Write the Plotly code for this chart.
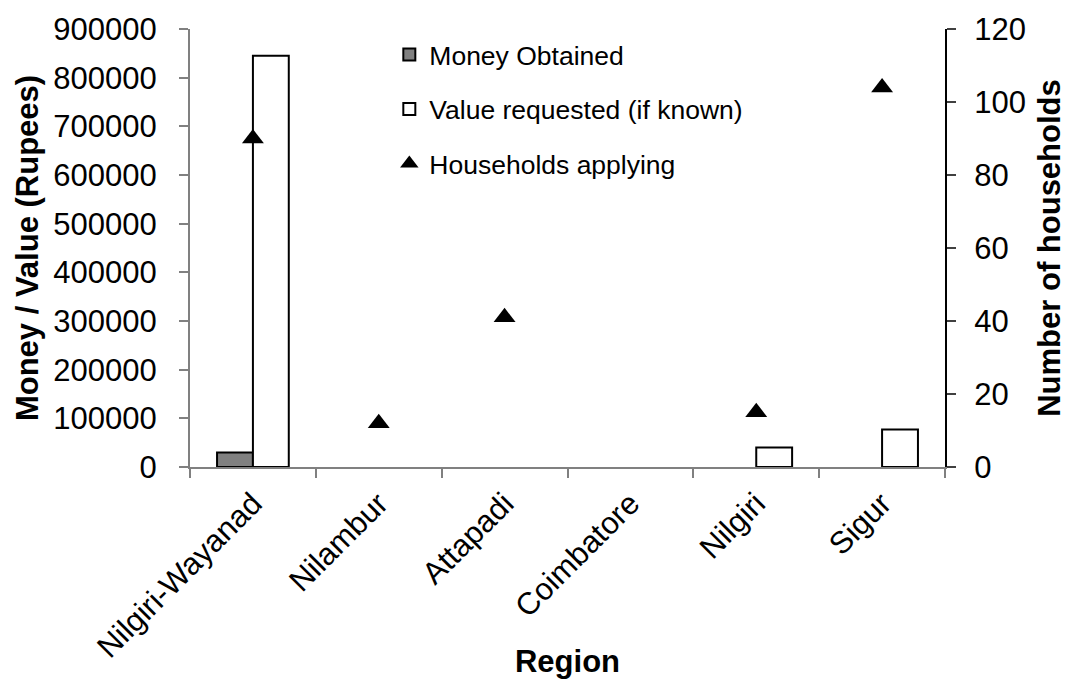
import plotly.graph_objects as go

regions = ["Nilgiri-Wayanad", "Nilambur", "Attapadi", "Coimbatore", "Nilgiri", "Sigur"]
money_obtained = [30000, None, None, None, None, None]
value_requested = [845000, None, None, None, 40000, 77000]
households_applying = [90, 12, 41, None, 15, 104]

y_left_ticks = [0, 100000, 200000, 300000, 400000, 500000, 600000, 700000, 800000, 900000]
y_right_ticks = [0, 20, 40, 60, 80, 100, 120]

FONT = "Arial, Liberation Sans, sans-serif"

fig = go.Figure()
fig.add_trace(go.Bar(
    x=regions, y=money_obtained, name="Money Obtained",
    marker=dict(color="#808080", line=dict(color="black", width=2)),
    legendgroup="a", yaxis="y",
))
fig.add_trace(go.Bar(
    x=regions, y=value_requested, name="Value requested (if known)",
    marker=dict(color="white", line=dict(color="black", width=2)),
    legendgroup="b", yaxis="y",
))
fig.add_trace(go.Scatter(
    x=regions, y=households_applying, name="Households applying",
    mode="markers",
    marker=dict(symbol="triangle-up", size=19, color="black"),
    legendgroup="c", yaxis="y2",
))

fig.update_layout(
    width=1071, height=679,
    margin=dict(l=190, r=126, t=29, b=212),
    paper_bgcolor="white", plot_bgcolor="white",
    font=dict(family=FONT, size=29, color="black"),
    barmode="group", bargap=0.43, bargroupgap=0,
    showlegend=True,
    legend=dict(
        x=0.264, y=0.996, xanchor="left", yanchor="top",
        font=dict(family=FONT, size=26.5, color="black"),
        traceorder="grouped", tracegroupgap=17,
        bgcolor="rgba(0,0,0,0)",
    ),
    xaxis=dict(
        type="category", tickangle=-45, tickson="boundaries",
        automargin=False,
        showline=True, linecolor="#808080", linewidth=2,
        ticks="outside", ticklen=9, tickcolor="#808080", tickwidth=1.5,
        showgrid=False, zeroline=False,
        tickfont=dict(family=FONT, size=31),
        title=dict(text="<b>Region</b>", font=dict(family=FONT, size=31), standoff=0),
        ticklabelstandoff=4,
    ),
    yaxis=dict(
        range=[0, 900000], tickvals=y_left_ticks, ticktext=[str(v) for v in y_left_ticks],
        automargin=False,
        showline=True, linecolor="#808080", linewidth=2,
        ticks="outside", ticklen=9, tickcolor="#808080", tickwidth=1.5,
        showgrid=False, zeroline=False,
        tickfont=dict(family=FONT, size=31),
        ticklabelstandoff=16,
        title=dict(text="<b>Money / Value (Rupees)</b>", font=dict(family=FONT, size=31), standoff=5),
    ),
    yaxis2=dict(
        range=[0, 120], tickvals=y_right_ticks, ticktext=[str(v) for v in y_right_ticks],
        overlaying="y", side="right",
        automargin=False,
        showline=True, linecolor="black", linewidth=2,
        ticks="outside", ticklen=9, tickcolor="#404040", tickwidth=1.5,
        showgrid=False, zeroline=False,
        tickfont=dict(family=FONT, size=31),
        ticklabelstandoff=12,
        title=dict(text="<b>Number of households</b>", font=dict(family=FONT, size=31), standoff=13),
    ),
)

fig.write_html(
    "out.html",
    config={"displayModeBar": False},
    post_script="document.body.style.margin='0px';document.body.style.overflow='hidden';",
)
